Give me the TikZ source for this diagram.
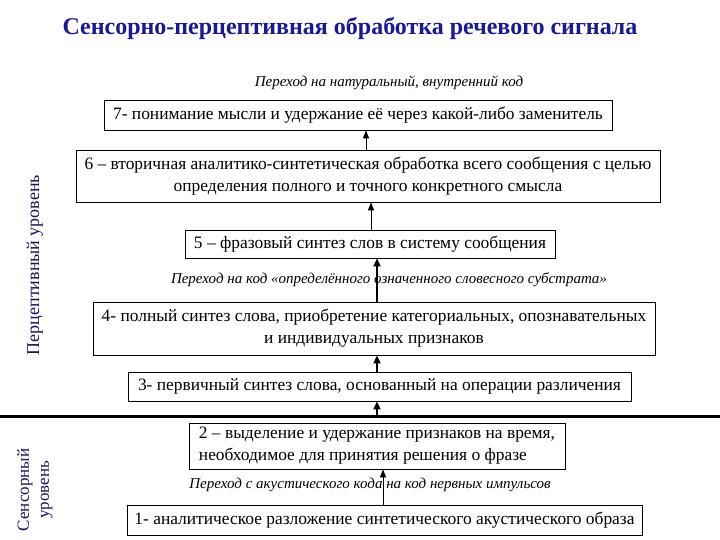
\documentclass[tikz,border=0pt]{standalone}
\usepackage{fontspec}
\setmainfont{Liberation Serif}
\usepackage{tikz}
\usetikzlibrary{arrows.meta,positioning,calc}
\definecolor{mynavy}{RGB}{25,25,150}
\definecolor{mydark}{RGB}{20,20,90}
\tikzset{
  stage/.style={draw=black, line width=0.8pt, inner sep=0pt, align=center,
    font=\fontsize{17.4}{22}\selectfont},
  hop/.style={font=\itshape\fontsize{15}{17}\selectfont},
  thin arrow/.style={-{Triangle[length=8pt,width=6pt]}, line width=0.8pt},
  thick arrow/.style={-{Triangle[length=8pt,width=7pt]}, line width=1.8pt}
}

\begin{document}
\begin{tikzpicture}[x=1pt, y=-1pt]
  \useasboundingbox (0,0) rectangle (720,540);
  % Title
  \node[text=mynavy, font=\bfseries\fontsize{24}{28}\selectfont] (title) at (350,28)
    {Сенсорно-перцептивная обработка речевого сигнала};
  % Levels
  \node[text=mydark, rotate=90, font=\fontsize{18}{20}\selectfont] (perc) at (35,265)
    {Перцептивный уровень};
  \node[text=mydark, rotate=90, align=center, font=\fontsize{17}{20}\selectfont] (sens) at (35,490)
    {Сенсорный\\уровень};
  % Stages
  \node[hop] (hop7) at (389,83) {Переход на натуральный, внутренний код};
  \node[stage, minimum width=508, minimum height=30] (s7) at (358,115)
    {7- понимание мысли и удержание её через какой-либо заменитель};
  \node[stage, minimum width=584, minimum height=52] (s6) at (368,176)
    {6 – вторичная аналитико-синтетическая обработка всего сообщения с целью\\
     определения полного и точного конкретного смысла};
  \node[stage, minimum width=370, minimum height=28] (s5) at (370,244)
    {5 – фразовый синтез слов в систему сообщения};
  \node[hop] (hop5) at (389,280) {Переход на код «определённого означенного словесного субстрата»};
  \node[stage, minimum width=562, minimum height=53] (s4) at (374,328.5)
    {4- полный синтез слова, приобретение категориальных, опознавательных\\
     и индивидуальных признаков};
  \node[stage, minimum width=503, minimum height=29] (s3) at (379.5,386.5)
    {3- первичный синтез слова, основанный на операции различения};
  % Border between levels
  \coordinate (split) at (0,416);
  \coordinate (split end) at (720,416);
  \draw[line width=3pt] (split) -- (split end);
  \node[stage, align=left, minimum width=376, minimum height=46] (s2) at (377,446)
    {2 – выделение и удержание признаков на время,\\
     необходимое для принятия решения о фразе};
  \node[hop] (hop1) at (370,485) {Переход с акустического кода на код нервных импульсов};
  \node[stage, minimum width=515, minimum height=30] (s1) at (384.5,520)
    {1- аналитическое разложение синтетического акустического образа};
  % Arrows
  \draw[thin arrow] ([xshift=-2pt]s6.north) -- ([xshift=-2pt]s6.north |- s7.south);
  \draw[thin arrow] ([xshift=1pt]s5.north) -- ([xshift=1pt]s5.north |- s6.south);
  \draw[thick arrow] ([xshift=3pt]s4.north) -- ([xshift=3pt]s4.north |- s5.south);
  \draw[thick arrow] ([xshift=-2.5pt]s3.north) -- ([xshift=-2.5pt]s3.north |- s4.south);
  \draw[thick arrow] ([xshift=-2.5pt]s3.south |- split) -- ([xshift=-2.5pt]s3.south);
  \draw[thin arrow] ([xshift=-1.5pt]s1.north) -- ([xshift=-1.5pt]s1.north |- s2.south);
\end{tikzpicture}
\end{document}
